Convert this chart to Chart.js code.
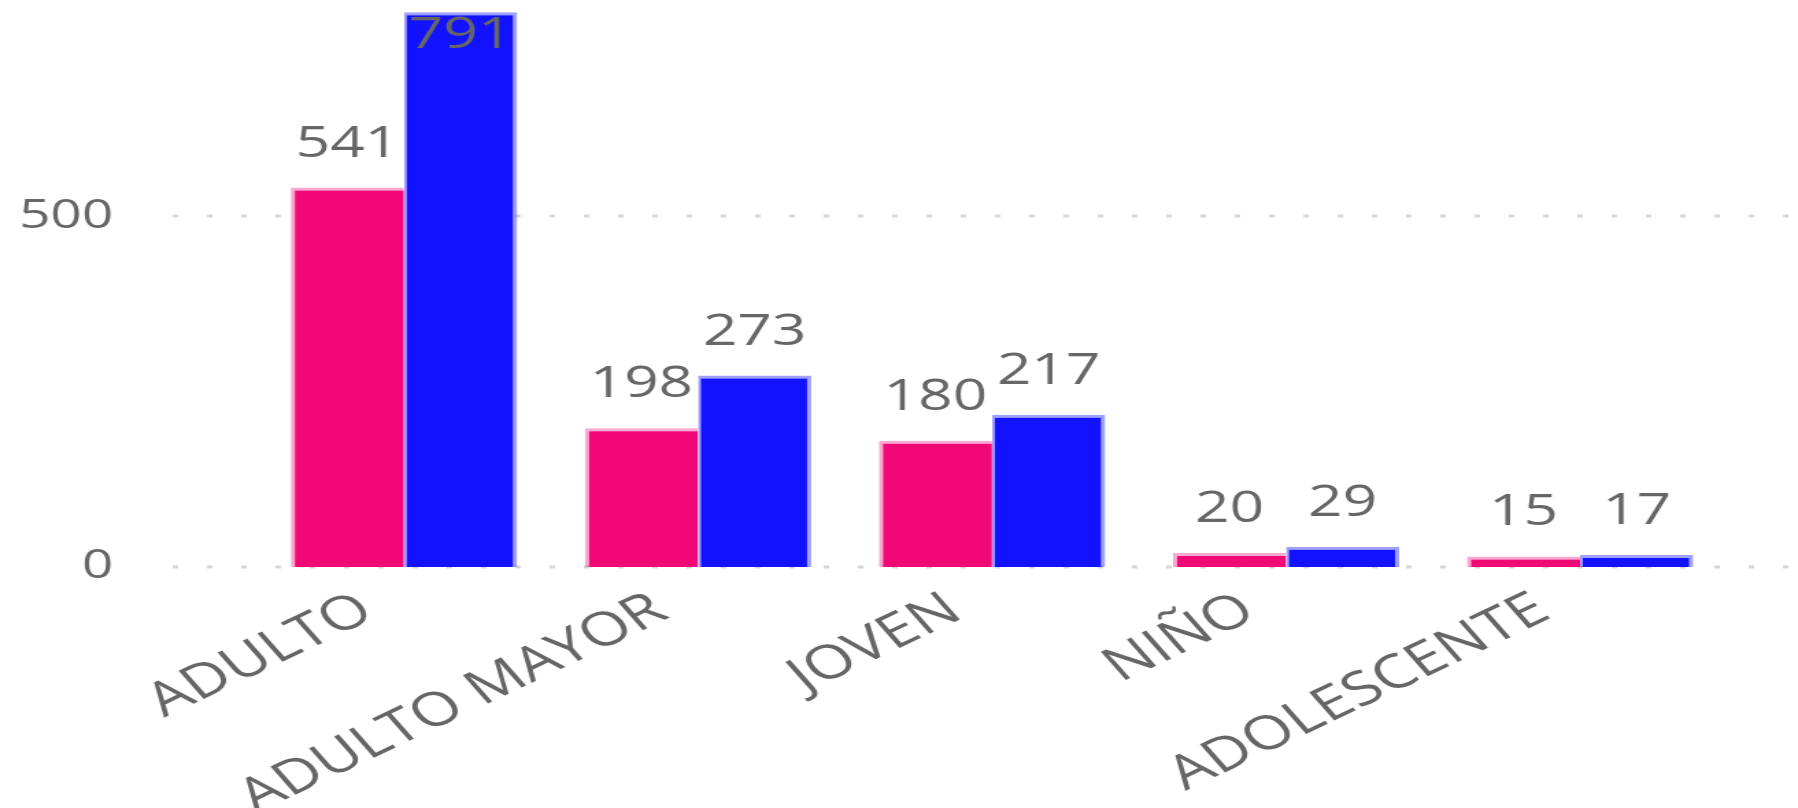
<!DOCTYPE html>
<html>
<head>
<meta charset="utf-8">
<script src="https://cdn.jsdelivr.net/npm/chart.js@4.4.1/dist/chart.umd.min.js"></script>
<style>
  html, body { margin: 0; padding: 0; background: #fff; overflow: hidden; }
  /* the source picture is stretched sideways, so draw narrow and stretch */
  #wrap { width: 1312px; height: 808px; transform: scaleX(1.3704); transform-origin: 0 0; }
</style>
</head>
<body>
<div id="wrap"><canvas id="chart"></canvas></div>
<script>
const categories = ['ADULTO', 'ADULTO MAYOR', 'JOVEN', 'NIÑO', 'ADOLESCENTE'];
const pinkValues = [541, 198, 180, 20, 15];
const blueValues = [791, 273, 217, 29, 17];
const yTicks = [0, 500];

const GRID_LEFT = 126;

// dotted horizontal grid, runs further left than the plot area
const dottedGrid = {
  id: 'dottedGrid',
  beforeDatasetsDraw(chart) {
    const { ctx, width } = chart;
    const y = chart.scales.y;
    ctx.save();
    ctx.strokeStyle = '#d6d6d6';
    ctx.lineWidth = 3;
    ctx.setLineDash([4, 21]);
    y.ticks.forEach((t) => {
      const py = Math.round(y.getPixelForValue(t.value));
      ctx.beginPath();
      ctx.moveTo(GRID_LEFT, py);
      ctx.lineTo(width, py);
      ctx.stroke();
    });
    ctx.restore();
  }
};

// value labels above bars (pushed inside when there is no room)
const barLabels = {
  id: 'barLabels',
  afterDatasetsDraw(chart) {
    const { ctx, chartArea } = chart;
    ctx.save();
    ctx.font = '44px "Open Sans"';
    ctx.fillStyle = '#666666';
    ctx.textAlign = 'center';
    ctx.textBaseline = 'alphabetic';
    chart.data.datasets.forEach((ds, i) => {
      chart.getDatasetMeta(i).data.forEach((bar, j) => {
        const yPos = Math.max(bar.y - 31, chartArea.top + 42);
        ctx.fillText(ds.data[j], bar.x, yPos);
      });
    });
    ctx.restore();
  }
};

new Chart(document.getElementById('chart'), {
  type: 'bar',
  data: {
    labels: categories,
    datasets: [
      {
        data: pinkValues,
        backgroundColor: '#F10877',
        borderColor: 'rgba(241, 8, 119, 0.35)',
        borderWidth: { top: 3, left: 3, right: 0, bottom: 0 },
        borderSkipped: 'start',
        categoryPercentage: 0.77,
        barPercentage: 1.0,
      },
      {
        data: blueValues,
        backgroundColor: '#1212FF',
        borderColor: 'rgba(18, 18, 255, 0.4)',
        borderWidth: { top: 3, left: 2, right: 3, bottom: 0 },
        borderSkipped: 'start',
        categoryPercentage: 0.77,
        barPercentage: 1.0,
      },
    ],
  },
  options: {
    responsive: true,
    maintainAspectRatio: false,
    animation: false,
    layout: { padding: { top: 6, right: 51.7, left: 0, bottom: 0 } },
    plugins: {
      legend: { display: false },
      tooltip: { enabled: false },
    },
    scales: {
      x: {
        grid: { display: false, drawTicks: false },
        border: { display: false },
        ticks: {
          autoSkip: false,
          minRotation: 33,
          maxRotation: 33,
          labelOffset: -27,
          padding: 15,
          color: '#666666',
          font: { family: 'Open Sans', size: 47 },
        },
        afterFit(scale) {
          scale.height = 241;
          scale.paddingLeft = 0;
          scale.paddingRight = 0;
        },
      },
      y: {
        min: 0,
        max: 800,
        grid: { display: false, drawTicks: false },
        border: { display: false },
        afterBuildTicks(scale) {
          scale.ticks = yTicks.map((v) => ({ value: v }));
        },
        ticks: {
          padding: 105,
          color: '#666666',
          font: { family: 'Open Sans', size: 40 },
        },
        afterFit(scale) {
          scale.width = 187.5;
          scale.paddingTop = 0;
          scale.paddingBottom = 0;
        },
      },
    },
  },
  plugins: [dottedGrid, barLabels],
});
</script>
</body>
</html>
